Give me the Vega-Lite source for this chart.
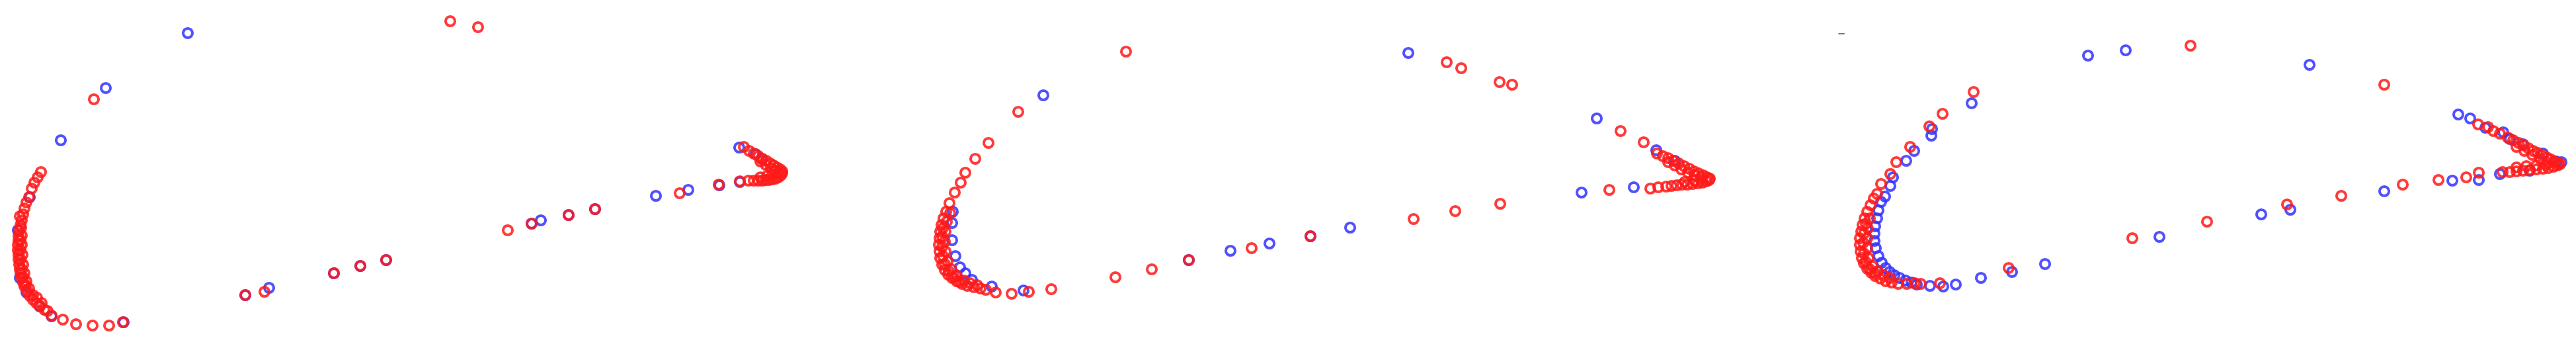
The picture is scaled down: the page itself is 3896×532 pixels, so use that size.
{
"$schema": "https://vega.github.io/schema/vega-lite/v6.json",
"padding": 0,
"spacing": 0,
"background": "white",
"datasets": {
"pts": [
{"p":3,"s":"dash","x":183,"y":50},
{"p":1,"s":"blue","x":284,"y":50},{"p":1,"s":"blue","x":160,"y":133},{"p":1,"s":"blue","x":92,"y":212},{"p":1,"s":"blue","x":45,"y":298},{"p":1,"s":"blue","x":27,"y":348},{"p":1,"s":"blue","x":30,"y":420},{"p":1,"s":"blue","x":40,"y":442},{"p":1,"s":"blue","x":60,"y":463},{"p":1,"s":"blue","x":78,"y":478},{"p":1,"s":"blue","x":187,"y":487},{"p":1,"s":"blue","x":371,"y":446},{"p":1,"s":"blue","x":407,"y":435},{"p":1,"s":"blue","x":505,"y":413},{"p":1,"s":"blue","x":545,"y":402},{"p":1,"s":"blue","x":584,"y":393},{"p":1,"s":"blue","x":804,"y":338},{"p":1,"s":"blue","x":818,"y":333},{"p":1,"s":"blue","x":860,"y":325},{"p":1,"s":"blue","x":900,"y":316},{"p":1,"s":"blue","x":992,"y":296},{"p":1,"s":"blue","x":1041,"y":287},{"p":1,"s":"blue","x":1088,"y":280},{"p":1,"s":"blue","x":1119,"y":275},{"p":1,"s":"blue","x":1118,"y":223},{"p":1,"s":"blue","x":1143,"y":233},{"p":1,"s":"blue","x":1152,"y":240},
{"p":2,"s":"blue","x":277,"y":144},{"p":2,"s":"blue","x":140,"y":320},{"p":2,"s":"blue","x":139,"y":337},{"p":2,"s":"blue","x":139,"y":363},{"p":2,"s":"blue","x":144,"y":387},{"p":2,"s":"blue","x":151,"y":404},{"p":2,"s":"blue","x":159,"y":413},{"p":2,"s":"blue","x":169,"y":423},{"p":2,"s":"blue","x":199,"y":433},{"p":2,"s":"blue","x":247,"y":439},{"p":2,"s":"blue","x":497,"y":393},{"p":2,"s":"blue","x":560,"y":379},{"p":2,"s":"blue","x":619,"y":368},{"p":2,"s":"blue","x":829,"y":80},{"p":2,"s":"blue","x":1114,"y":179},{"p":2,"s":"blue","x":1204,"y":227},{"p":2,"s":"blue","x":1232,"y":243},{"p":2,"s":"blue","x":1170,"y":283},{"p":2,"s":"blue","x":1091,"y":291},{"p":2,"s":"blue","x":741,"y":344},{"p":2,"s":"blue","x":681,"y":357},
{"p":3,"s":"blue","x":556,"y":84},{"p":3,"s":"blue","x":613,"y":76},{"p":3,"s":"blue","x":380,"y":156},{"p":3,"s":"blue","x":320,"y":195},{"p":3,"s":"blue","x":319,"y":205},{"p":3,"s":"blue","x":293,"y":228},{"p":3,"s":"blue","x":281,"y":243},{"p":3,"s":"blue","x":261,"y":268},{"p":3,"s":"blue","x":257,"y":281},{"p":3,"s":"blue","x":249,"y":297},{"p":3,"s":"blue","x":243,"y":305},{"p":3,"s":"blue","x":239,"y":318},{"p":3,"s":"blue","x":237,"y":330},{"p":3,"s":"blue","x":234,"y":342},{"p":3,"s":"blue","x":233,"y":353},{"p":3,"s":"blue","x":233,"y":364},{"p":3,"s":"blue","x":235,"y":375},{"p":3,"s":"blue","x":239,"y":387},{"p":3,"s":"blue","x":244,"y":397},{"p":3,"s":"blue","x":250,"y":405},{"p":3,"s":"blue","x":256,"y":411},{"p":3,"s":"blue","x":263,"y":416},{"p":3,"s":"blue","x":271,"y":420},{"p":3,"s":"blue","x":280,"y":424},{"p":3,"s":"blue","x":289,"y":427},{"p":3,"s":"blue","x":297,"y":430},{"p":3,"s":"blue","x":317,"y":432},{"p":3,"s":"blue","x":337,"y":433},{"p":3,"s":"blue","x":356,"y":430},{"p":3,"s":"blue","x":394,"y":420},{"p":3,"s":"blue","x":441,"y":411},{"p":3,"s":"blue","x":491,"y":399},{"p":3,"s":"blue","x":891,"y":98},{"p":3,"s":"blue","x":1116,"y":173},{"p":3,"s":"blue","x":1134,"y":179},{"p":3,"s":"blue","x":1157,"y":193},{"p":3,"s":"blue","x":1184,"y":200},{"p":3,"s":"blue","x":1194,"y":210},{"p":3,"s":"blue","x":1214,"y":218},{"p":3,"s":"blue","x":1244,"y":232},{"p":3,"s":"blue","x":1264,"y":244},{"p":3,"s":"blue","x":1272,"y":245},{"p":3,"s":"blue","x":1224,"y":258},{"p":3,"s":"blue","x":1179,"y":263},{"p":3,"s":"blue","x":1147,"y":272},{"p":3,"s":"blue","x":1107,"y":273},{"p":3,"s":"blue","x":1004,"y":289},{"p":3,"s":"blue","x":862,"y":317},{"p":3,"s":"blue","x":818,"y":324},{"p":3,"s":"blue","x":664,"y":358},
{"p":1,"s":"red","x":142,"y":150},{"p":1,"s":"red","x":681,"y":32},{"p":1,"s":"red","x":723,"y":41},
{"p":1,"s":"red","x":62,"y":260},{"p":1,"s":"red","x":57,"y":268},{"p":1,"s":"red","x":52,"y":276},{"p":1,"s":"red","x":48,"y":285},{"p":1,"s":"red","x":44,"y":298},{"p":1,"s":"red","x":40,"y":306},{"p":1,"s":"red","x":37,"y":315},{"p":1,"s":"red","x":35,"y":324},{"p":1,"s":"red","x":33,"y":333},{"p":1,"s":"red","x":31,"y":340},{"p":1,"s":"red","x":29,"y":348},{"p":1,"s":"red","x":28,"y":356},{"p":1,"s":"red","x":28,"y":363},{"p":1,"s":"red","x":27,"y":370},{"p":1,"s":"red","x":27,"y":378},{"p":1,"s":"red","x":28,"y":385},{"p":1,"s":"red","x":28,"y":392},{"p":1,"s":"red","x":29,"y":400},{"p":1,"s":"red","x":30,"y":407},{"p":1,"s":"red","x":31,"y":413},{"p":1,"s":"red","x":33,"y":420},{"p":1,"s":"red","x":35,"y":427},{"p":1,"s":"red","x":37,"y":433},{"p":1,"s":"red","x":41,"y":440},{"p":1,"s":"red","x":45,"y":447},{"p":1,"s":"red","x":50,"y":453},{"p":1,"s":"red","x":55,"y":458},{"p":1,"s":"red","x":60,"y":462},{"p":1,"s":"red","x":67,"y":468},{"p":1,"s":"red","x":78,"y":477},{"p":1,"s":"red","x":95,"y":483},{"p":1,"s":"red","x":115,"y":490},{"p":1,"s":"red","x":140,"y":492},{"p":1,"s":"red","x":165,"y":492},{"p":1,"s":"red","x":186,"y":487},
{"p":1,"s":"red","x":33,"y":356},{"p":1,"s":"red","x":33,"y":370},{"p":1,"s":"red","x":34,"y":385},{"p":1,"s":"red","x":35,"y":400},{"p":1,"s":"red","x":37,"y":413},{"p":1,"s":"red","x":40,"y":425},{"p":1,"s":"red","x":44,"y":436},{"p":1,"s":"red","x":50,"y":446},
{"p":1,"s":"red","x":31,"y":363},{"p":1,"s":"red","x":31,"y":378},{"p":1,"s":"red","x":31,"y":392},{"p":1,"s":"red","x":33,"y":407},{"p":1,"s":"red","x":35,"y":419},{"p":1,"s":"red","x":39,"y":431},
{"p":1,"s":"red","x":30,"y":327},{"p":1,"s":"red","x":32,"y":344},{"p":1,"s":"red","x":56,"y":450},{"p":1,"s":"red","x":63,"y":458},{"p":1,"s":"red","x":72,"y":470},
{"p":1,"s":"red","x":371,"y":446},{"p":1,"s":"red","x":400,"y":441},{"p":1,"s":"red","x":505,"y":413},{"p":1,"s":"red","x":545,"y":402},{"p":1,"s":"red","x":584,"y":393},{"p":1,"s":"red","x":768,"y":348},{"p":1,"s":"red","x":804,"y":338},{"p":1,"s":"red","x":860,"y":325},{"p":1,"s":"red","x":900,"y":316},{"p":1,"s":"red","x":1028,"y":292},{"p":1,"s":"red","x":1087,"y":279},{"p":1,"s":"red","x":1119,"y":274},
{"p":1,"s":"red","x":1125,"y":222},{"p":1,"s":"red","x":1133,"y":228},{"p":1,"s":"red","x":1140,"y":232},{"p":1,"s":"red","x":1147,"y":236},{"p":1,"s":"red","x":1153,"y":240},{"p":1,"s":"red","x":1159,"y":243},{"p":1,"s":"red","x":1165,"y":247},{"p":1,"s":"red","x":1170,"y":250},{"p":1,"s":"red","x":1175,"y":253},{"p":1,"s":"red","x":1180,"y":256},{"p":1,"s":"red","x":1183,"y":259},
{"p":1,"s":"red","x":1150,"y":244},{"p":1,"s":"red","x":1158,"y":249},{"p":1,"s":"red","x":1166,"y":254},{"p":1,"s":"red","x":1172,"y":258},{"p":1,"s":"red","x":1177,"y":262},
{"p":1,"s":"red","x":1132,"y":273},{"p":1,"s":"red","x":1140,"y":273},{"p":1,"s":"red","x":1147,"y":273},{"p":1,"s":"red","x":1153,"y":273},{"p":1,"s":"red","x":1158,"y":272},{"p":1,"s":"red","x":1163,"y":272},{"p":1,"s":"red","x":1168,"y":271},{"p":1,"s":"red","x":1173,"y":270},{"p":1,"s":"red","x":1177,"y":268},{"p":1,"s":"red","x":1181,"y":265},{"p":1,"s":"red","x":1183,"y":262},
{"p":1,"s":"red","x":1150,"y":268},{"p":1,"s":"red","x":1160,"y":266},{"p":1,"s":"red","x":1168,"y":264},
{"p":2,"s":"red","x":402,"y":78},{"p":2,"s":"red","x":239,"y":169},{"p":2,"s":"red","x":194,"y":216},{"p":2,"s":"red","x":174,"y":240},{"p":2,"s":"red","x":159,"y":261},{"p":2,"s":"red","x":152,"y":276},{"p":2,"s":"red","x":143,"y":291},{"p":2,"s":"red","x":135,"y":307},{"p":2,"s":"red","x":130,"y":320},{"p":2,"s":"red","x":126,"y":330},{"p":2,"s":"red","x":123,"y":340},{"p":2,"s":"red","x":121,"y":350},{"p":2,"s":"red","x":120,"y":360},{"p":2,"s":"red","x":119,"y":370},{"p":2,"s":"red","x":120,"y":380},{"p":2,"s":"red","x":121,"y":390},{"p":2,"s":"red","x":124,"y":400},{"p":2,"s":"red","x":128,"y":408},{"p":2,"s":"red","x":133,"y":415},{"p":2,"s":"red","x":139,"y":420},{"p":2,"s":"red","x":146,"y":425},{"p":2,"s":"red","x":154,"y":429},{"p":2,"s":"red","x":162,"y":432},{"p":2,"s":"red","x":172,"y":434},{"p":2,"s":"red","x":182,"y":436},{"p":2,"s":"red","x":190,"y":438},{"p":2,"s":"red","x":205,"y":442},{"p":2,"s":"red","x":229,"y":444},{"p":2,"s":"red","x":255,"y":441},{"p":2,"s":"red","x":289,"y":437},
{"p":2,"s":"red","x":131,"y":335},{"p":2,"s":"red","x":129,"y":350},{"p":2,"s":"red","x":128,"y":365},{"p":2,"s":"red","x":129,"y":380},{"p":2,"s":"red","x":132,"y":395},{"p":2,"s":"red","x":138,"y":407},{"p":2,"s":"red","x":146,"y":416},{"p":2,"s":"red","x":157,"y":424},
{"p":2,"s":"red","x":125,"y":345},{"p":2,"s":"red","x":124,"y":358},{"p":2,"s":"red","x":124,"y":373},{"p":2,"s":"red","x":125,"y":387},{"p":2,"s":"red","x":128,"y":399},{"p":2,"s":"red","x":134,"y":410},{"p":2,"s":"red","x":142,"y":419},{"p":2,"s":"red","x":150,"y":426},
{"p":2,"s":"red","x":166,"y":428},{"p":2,"s":"red","x":177,"y":431},{"p":2,"s":"red","x":136,"y":322},
{"p":2,"s":"red","x":386,"y":419},{"p":2,"s":"red","x":441,"y":407},{"p":2,"s":"red","x":497,"y":393},{"p":2,"s":"red","x":592,"y":375},
{"p":2,"s":"red","x":887,"y":94},{"p":2,"s":"red","x":909,"y":103},{"p":2,"s":"red","x":967,"y":124},{"p":2,"s":"red","x":986,"y":128},{"p":2,"s":"red","x":1150,"y":198},{"p":2,"s":"red","x":1185,"y":215},{"p":2,"s":"red","x":1205,"y":232},
{"p":2,"s":"red","x":1214,"y":236},{"p":2,"s":"red","x":1222,"y":239},{"p":2,"s":"red","x":1230,"y":243},{"p":2,"s":"red","x":1238,"y":247},{"p":2,"s":"red","x":1246,"y":251},{"p":2,"s":"red","x":1254,"y":255},{"p":2,"s":"red","x":1261,"y":259},{"p":2,"s":"red","x":1268,"y":262},{"p":2,"s":"red","x":1275,"y":265},{"p":2,"s":"red","x":1281,"y":268},{"p":2,"s":"red","x":1285,"y":270},
{"p":2,"s":"red","x":1222,"y":245},{"p":2,"s":"red","x":1232,"y":250},{"p":2,"s":"red","x":1242,"y":256},{"p":2,"s":"red","x":1252,"y":261},{"p":2,"s":"red","x":1262,"y":265},{"p":2,"s":"red","x":1272,"y":268},
{"p":2,"s":"red","x":1195,"y":285},{"p":2,"s":"red","x":1207,"y":283},{"p":2,"s":"red","x":1219,"y":282},{"p":2,"s":"red","x":1227,"y":281},{"p":2,"s":"red","x":1235,"y":280},{"p":2,"s":"red","x":1243,"y":279},{"p":2,"s":"red","x":1251,"y":279},{"p":2,"s":"red","x":1259,"y":278},{"p":2,"s":"red","x":1267,"y":277},{"p":2,"s":"red","x":1274,"y":276},{"p":2,"s":"red","x":1280,"y":274},{"p":2,"s":"red","x":1284,"y":272},
{"p":2,"s":"red","x":1247,"y":275},{"p":2,"s":"red","x":1262,"y":273},{"p":2,"s":"red","x":1272,"y":272},
{"p":2,"s":"red","x":1133,"y":287},{"p":2,"s":"red","x":968,"y":308},{"p":2,"s":"red","x":900,"y":319},{"p":2,"s":"red","x":837,"y":331},{"p":2,"s":"red","x":681,"y":357},
{"p":3,"s":"red","x":383,"y":139},{"p":3,"s":"red","x":336,"y":172},{"p":3,"s":"red","x":316,"y":191},{"p":3,"s":"red","x":287,"y":222},{"p":3,"s":"red","x":266,"y":245},{"p":3,"s":"red","x":257,"y":263},{"p":3,"s":"red","x":243,"y":278},{"p":3,"s":"red","x":237,"y":293},
{"p":3,"s":"red","x":232,"y":300},{"p":3,"s":"red","x":227,"y":310},{"p":3,"s":"red","x":222,"y":320},{"p":3,"s":"red","x":218,"y":330},{"p":3,"s":"red","x":215,"y":340},{"p":3,"s":"red","x":213,"y":350},{"p":3,"s":"red","x":211,"y":360},{"p":3,"s":"red","x":211,"y":370},{"p":3,"s":"red","x":212,"y":380},{"p":3,"s":"red","x":214,"y":390},{"p":3,"s":"red","x":217,"y":398},{"p":3,"s":"red","x":222,"y":406},{"p":3,"s":"red","x":228,"y":412},{"p":3,"s":"red","x":234,"y":417},{"p":3,"s":"red","x":242,"y":421},{"p":3,"s":"red","x":250,"y":425},{"p":3,"s":"red","x":259,"y":427},{"p":3,"s":"red","x":269,"y":429},{"p":3,"s":"red","x":282,"y":429},{"p":3,"s":"red","x":294,"y":428},{"p":3,"s":"red","x":303,"y":429},{"p":3,"s":"red","x":332,"y":428},
{"p":3,"s":"red","x":226,"y":330},{"p":3,"s":"red","x":223,"y":345},{"p":3,"s":"red","x":222,"y":360},{"p":3,"s":"red","x":222,"y":375},{"p":3,"s":"red","x":224,"y":390},{"p":3,"s":"red","x":230,"y":402},{"p":3,"s":"red","x":238,"y":410},{"p":3,"s":"red","x":247,"y":416},{"p":3,"s":"red","x":256,"y":420},
{"p":3,"s":"red","x":220,"y":338},{"p":3,"s":"red","x":217,"y":353},{"p":3,"s":"red","x":216,"y":367},{"p":3,"s":"red","x":217,"y":383},{"p":3,"s":"red","x":220,"y":396},{"p":3,"s":"red","x":226,"y":407},{"p":3,"s":"red","x":234,"y":413},
{"p":3,"s":"red","x":436,"y":405},{"p":3,"s":"red","x":623,"y":360},{"p":3,"s":"red","x":736,"y":335},{"p":3,"s":"red","x":857,"y":309},{"p":3,"s":"red","x":939,"y":296},{"p":3,"s":"red","x":1032,"y":279},{"p":3,"s":"red","x":1086,"y":272},{"p":3,"s":"red","x":1128,"y":268},{"p":3,"s":"red","x":1147,"y":261},
{"p":3,"s":"red","x":711,"y":69},{"p":3,"s":"red","x":1004,"y":128},
{"p":3,"s":"red","x":1146,"y":188},{"p":3,"s":"red","x":1161,"y":192},{"p":3,"s":"red","x":1169,"y":198},{"p":3,"s":"red","x":1179,"y":202},{"p":3,"s":"red","x":1191,"y":208},{"p":3,"s":"red","x":1199,"y":212},{"p":3,"s":"red","x":1207,"y":216},{"p":3,"s":"red","x":1215,"y":220},{"p":3,"s":"red","x":1222,"y":224},{"p":3,"s":"red","x":1229,"y":228},{"p":3,"s":"red","x":1236,"y":231},{"p":3,"s":"red","x":1243,"y":235},{"p":3,"s":"red","x":1250,"y":238},{"p":3,"s":"red","x":1256,"y":241},{"p":3,"s":"red","x":1262,"y":244},{"p":3,"s":"red","x":1267,"y":246},
{"p":3,"s":"red","x":1204,"y":222},{"p":3,"s":"red","x":1216,"y":228},{"p":3,"s":"red","x":1228,"y":234},{"p":3,"s":"red","x":1240,"y":240},{"p":3,"s":"red","x":1252,"y":246},
{"p":3,"s":"red","x":1183,"y":260},{"p":3,"s":"red","x":1194,"y":260},{"p":3,"s":"red","x":1204,"y":259},{"p":3,"s":"red","x":1214,"y":258},{"p":3,"s":"red","x":1224,"y":257},{"p":3,"s":"red","x":1234,"y":256},{"p":3,"s":"red","x":1244,"y":255},{"p":3,"s":"red","x":1252,"y":254},{"p":3,"s":"red","x":1260,"y":252},{"p":3,"s":"red","x":1266,"y":250},{"p":3,"s":"red","x":1270,"y":248},
{"p":3,"s":"red","x":1204,"y":253},{"p":3,"s":"red","x":1219,"y":251},{"p":3,"s":"red","x":1234,"y":250},{"p":3,"s":"red","x":1249,"y":249}
]
},
"data": {"name": "pts"},
"facet": {"column": {"field": "p", "type": "ordinal", "title": null, "header": {"labels": false, "title": null}}},
"spec": {
  "width": 1298,
  "height": 532,
  "encoding": {
    "x": {"field": "x", "type": "quantitative", "scale": {"domain": [0, 1298], "nice": false, "zero": false}, "axis": null},
    "y": {"field": "y", "type": "quantitative", "scale": {"domain": [0, 532], "reverse": true, "nice": false, "zero": false}, "axis": null}
  },
  "layer": [
    {
      "transform": [{"filter": "datum.s !== 'dash'"}],
      "mark": {"type": "point", "filled": false, "size": 200, "strokeWidth": 4},
      "encoding": {
        "color": {"field": "s", "type": "nominal", "scale": {"domain": ["blue", "red"], "range": ["#3333ff", "#ff1a1a"]}, "legend": null},
        "opacity": {"value": 0.85}
      }
    },
    {
      "transform": [{"filter": "datum.s === 'dash'"}],
      "mark": {"type": "text", "text": "‒", "fontSize": 16, "fontWeight": "bold", "color": "#777777", "font": "DejaVu Sans"}
    }
  ]
},
"config": {"view": {"stroke": null}}
}
